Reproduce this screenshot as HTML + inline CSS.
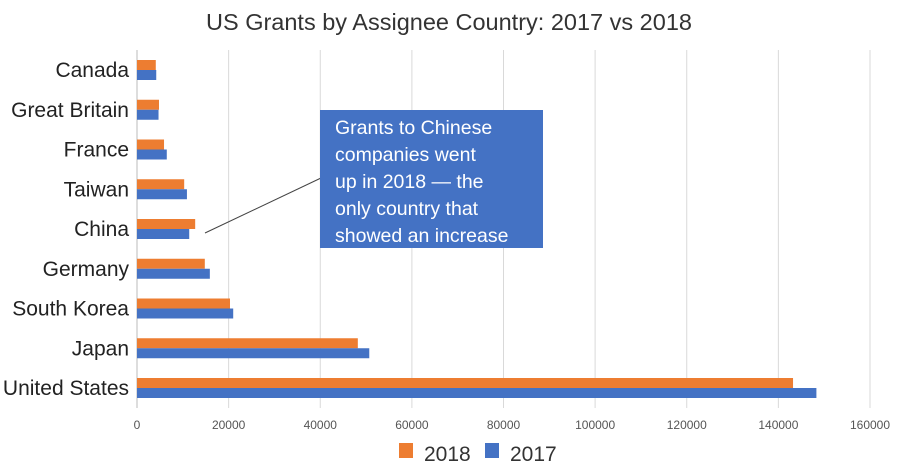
<!DOCTYPE html>
<html><head><meta charset="utf-8"><style>
body{margin:0;background:#fff;font-family:"Liberation Sans",sans-serif;}
svg text{font-family:"Liberation Sans",sans-serif;}
</style></head><body>
<svg id="c" width="898" height="462">
<text x="449" y="30" text-anchor="middle" font-size="23.5" fill="#333">US Grants by Assignee Country: 2017 vs 2018</text>
<g id="grid"></g><g id="bars"></g><g id="labels"></g>
<line x1="205" y1="233" x2="321" y2="178" stroke="#444" stroke-width="1"/>
<rect x="320" y="110" width="223" height="138" fill="#4472c4"/>
<g font-size="19.5" fill="#fff">
<text x="335" y="134">Grants to Chinese</text>
<text x="335" y="161">companies went</text>
<text x="335" y="188">up in 2018 — the</text>
<text x="335" y="215">only country that</text>
<text x="335" y="242">showed an increase</text>
</g>
<rect x="399" y="443" width="14" height="15" fill="#ed7d31"/>
<text x="424" y="461" font-size="21" fill="#333">2018</text>
<rect x="485" y="443" width="14" height="15" fill="#4472c4"/>
<text x="510" y="461" font-size="21" fill="#333">2017</text>
</svg>
<script>
const categories=["Canada","Great Britain","France","Taiwan","China","Germany","South Korea","Japan","United States"];
const values2018=[4100,4800,5900,10300,12700,14800,20300,48200,143200];
const values2017=[4200,4700,6500,10900,11400,15900,21000,50700,148300];
const ticks=[0,20000,40000,60000,80000,100000,120000,140000,160000];
const NS="http://www.w3.org/2000/svg";
const x0=137,x1=870,maxV=160000;
const xs=v=>x0+v/maxV*(x1-x0);
const ys=i=>70+i*39.75;
function mk(t,a,p){const e=document.createElementNS(NS,t);for(const k in a)e.setAttribute(k,a[k]);p.appendChild(e);return e;}
const G=document.getElementById('grid'),B=document.getElementById('bars'),L=document.getElementById('labels');
ticks.forEach(t=>{
 const l=mk('line',{x1:xs(t),x2:xs(t),y1:50,y2:408,stroke:t===0?'#bbb':'#d9d9d9','stroke-width':1},G);
 
 
 const tx=mk('text',{x:xs(t),y:429,'text-anchor':'middle','font-size':12,fill:'#555'},L);
 tx.textContent=t;
 
 
});
categories.forEach((c,i)=>{
 const cy=ys(i);
 const a=mk('rect',{x:x0,y:cy-10,width:xs(values2018[i])-x0,height:10,fill:'#ed7d31'},B);
 
 
 const b=mk('rect',{x:x0,y:cy,width:xs(values2017[i])-x0,height:10,fill:'#4472c4'},B);
 
 
 const t=mk('text',{x:129,y:cy+7,'text-anchor':'end','font-size':21,fill:'#222'},L);
 t.textContent=c;
 
 
});
</script>
</body></html>
